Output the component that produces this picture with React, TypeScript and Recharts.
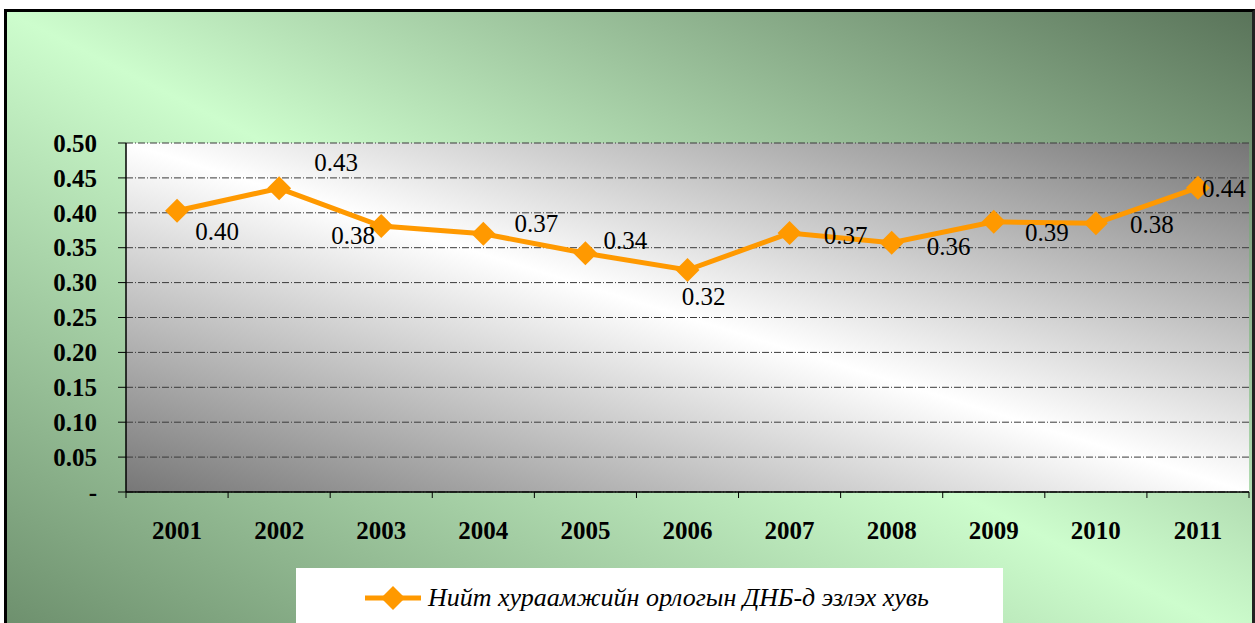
import React from 'react';
import { LineChart, Line, XAxis, YAxis, CartesianGrid, LabelList } from 'recharts';

const years = ['2001', '2002', '2003', '2004', '2005', '2006', '2007', '2008', '2009', '2010', '2011'];
const shares = [0.403, 0.435, 0.381, 0.370, 0.342, 0.318, 0.371, 0.357, 0.387, 0.385, 0.436];
const valueLabels = ['0.40', '0.43', '0.38', '0.37', '0.34', '0.32', '0.37', '0.36', '0.39', '0.38', '0.44'];
const yTicks = [0, 0.05, 0.1, 0.15, 0.2, 0.25, 0.3, 0.35, 0.4, 0.45, 0.5];
const yTickLabels = ['-', '0.05', '0.10', '0.15', '0.20', '0.25', '0.30', '0.35', '0.40', '0.45', '0.50'];
const seriesName = 'Нийт хураамжийн орлогын ДНБ-д эзлэх хувь';

// label placement relative to each point (style, not data)
const labelOffsets: [number, number][] = [
  [40, 21], [57, -26], [-28, 9], [53, -10], [40, -13], [16, 26], [56, 2], [57, 3], [53, 10], [56, 1], [26, 1],
];

const data = years.map((y, i) => ({ year: y, share: shares[i], label: valueLabels[i] }));

const W = 1255;
const H = 623;
const PLOT_L = 126;
const PLOT_T = 143;
const PLOT_R = 1249;
const PLOT_B = 492;
const PLOT_W = PLOT_R - PLOT_L;
const PLOT_H = PLOT_B - PLOT_T;
const HALF = PLOT_W / years.length / 2;
const ORANGE = '#FF9900';
const FONT = 'Liberation Serif, Times New Roman, serif';

const Diamond = (props: any) => {
  const { cx, cy, index } = props;
  if (cx == null || cy == null) return null;
  const r = 12;
  return (
    <path
      key={`d-${index}`}
      d={`M${cx},${cy - r}L${cx + r},${cy}L${cx},${cy + r}L${cx - r},${cy}Z`}
      fill={ORANGE}
    />
  );
};

const XTick = (props: any) => {
  const { x, y, payload, index } = props;
  return (
    <g>
      <line x1={x - HALF} x2={x - HALF} y1={y} y2={y + 6} stroke="#000" strokeWidth={1} />
      {index === years.length - 1 && (
        <line x1={x + HALF} x2={x + HALF} y1={y} y2={y + 6} stroke="#000" strokeWidth={1} />
      )}
      <text
        x={x}
        y={y + 47}
        textAnchor="middle"
        style={{ fontFamily: FONT, fontSize: 25, fontWeight: 'bold' }}
        fill="#000"
      >
        {payload.value}
      </text>
    </g>
  );
};

const YTick = (props: any) => {
  const { x, y, payload } = props;
  const idx = yTicks.findIndex((t) => Math.abs(t - payload.value) < 1e-6);
  return (
    <text
      x={x}
      y={y}
      dy="0.35em"
      textAnchor="end"
      style={{ fontFamily: FONT, fontSize: 25, fontWeight: 'bold' }}
      fill="#000"
    >
      {yTickLabels[idx]}
    </text>
  );
};

const ValueLabel = (props: any) => {
  const { x, y, index, value } = props;
  const off = labelOffsets[index] || [0, 0];
  return (
    <text
      x={x + off[0]}
      y={y + off[1]}
      dy="0.35em"
      textAnchor="middle"
      style={{ fontFamily: FONT, fontSize: 25 }}
      fill="#000"
    >
      {value}
    </text>
  );
};

export default function App() {
  return (
    <div
      style={{
        position: 'absolute',
        left: 0,
        top: 0,
        width: W,
        height: H,
        overflow: 'hidden',
        background: '#fff',
        fontFamily: FONT,
      }}
    >
      <div
        style={{
          position: 'absolute',
          left: 4,
          top: 9,
          width: W - 4,
          height: H + 10,
          boxSizing: 'border-box',
          borderLeft: '3px solid #000',
          borderTop: '3px solid #000',
          borderRight: '3px solid #222',
          background: 'linear-gradient(to bottom left, #5a745a 0%, #cdfdcd 50%, #6b8d6b 100%)',
        }}
      />
      <div
        style={{
          position: 'absolute',
          left: PLOT_L,
          top: PLOT_T,
          width: PLOT_W,
          height: PLOT_H,
          background: 'linear-gradient(to bottom left, #767676 0%, #ffffff 50%, #777777 100%)',
        }}
      />
      <div style={{ position: 'absolute', left: 0, top: 0 }}>
        <LineChart
          width={W}
          height={H}
          data={data}
          margin={{ top: PLOT_T, right: W - PLOT_R, bottom: H - PLOT_B - 60, left: 0 }}
        >
          <CartesianGrid horizontal vertical={false} stroke="#3a3a3a" strokeDasharray="7 2 1 2" />
          <XAxis
            dataKey="year"
            height={60}
            padding={{ left: HALF, right: HALF }}
            axisLine={{ stroke: '#000', strokeWidth: 1.5 }}
            tickLine={false}
            tickSize={0}
            tickMargin={0}
            interval={0}
            tick={<XTick />}
          />
          <YAxis
            width={PLOT_L}
            domain={[0, 0.5]}
            ticks={yTicks}
            interval={0}
            axisLine={{ stroke: '#000', strokeWidth: 1.5 }}
            tickLine={{ stroke: '#000' }}
            tickSize={8}
            tickMargin={21}
            tick={<YTick />}
          />
          <Line
            type="linear"
            dataKey="share"
            name={seriesName}
            stroke={ORANGE}
            strokeWidth={5}
            dot={<Diamond />}
            activeDot={false}
            isAnimationActive={false}
          >
            <LabelList dataKey="label" content={<ValueLabel />} />
          </Line>
        </LineChart>
      </div>
      <div
        style={{
          position: 'absolute',
          left: 296,
          top: 568,
          width: 707,
          height: 60,
          background: '#fff',
        }}
      >
        <svg width={60} height={30} style={{ position: 'absolute', left: 68, top: 15 }}>
          <line x1={1} x2={57} y1={15} y2={15} stroke={ORANGE} strokeWidth={5} />
          <path d="M29,3L41,15L29,27L17,15Z" fill={ORANGE} />
        </svg>
        <span
          style={{
            position: 'absolute',
            left: 132,
            top: 14,
            fontFamily: FONT,
            fontStyle: 'italic',
            fontSize: 26,
            lineHeight: '32px',
            whiteSpace: 'nowrap',
            color: '#000',
          }}
        >
          {seriesName}
        </span>
      </div>
    </div>
  );
}
